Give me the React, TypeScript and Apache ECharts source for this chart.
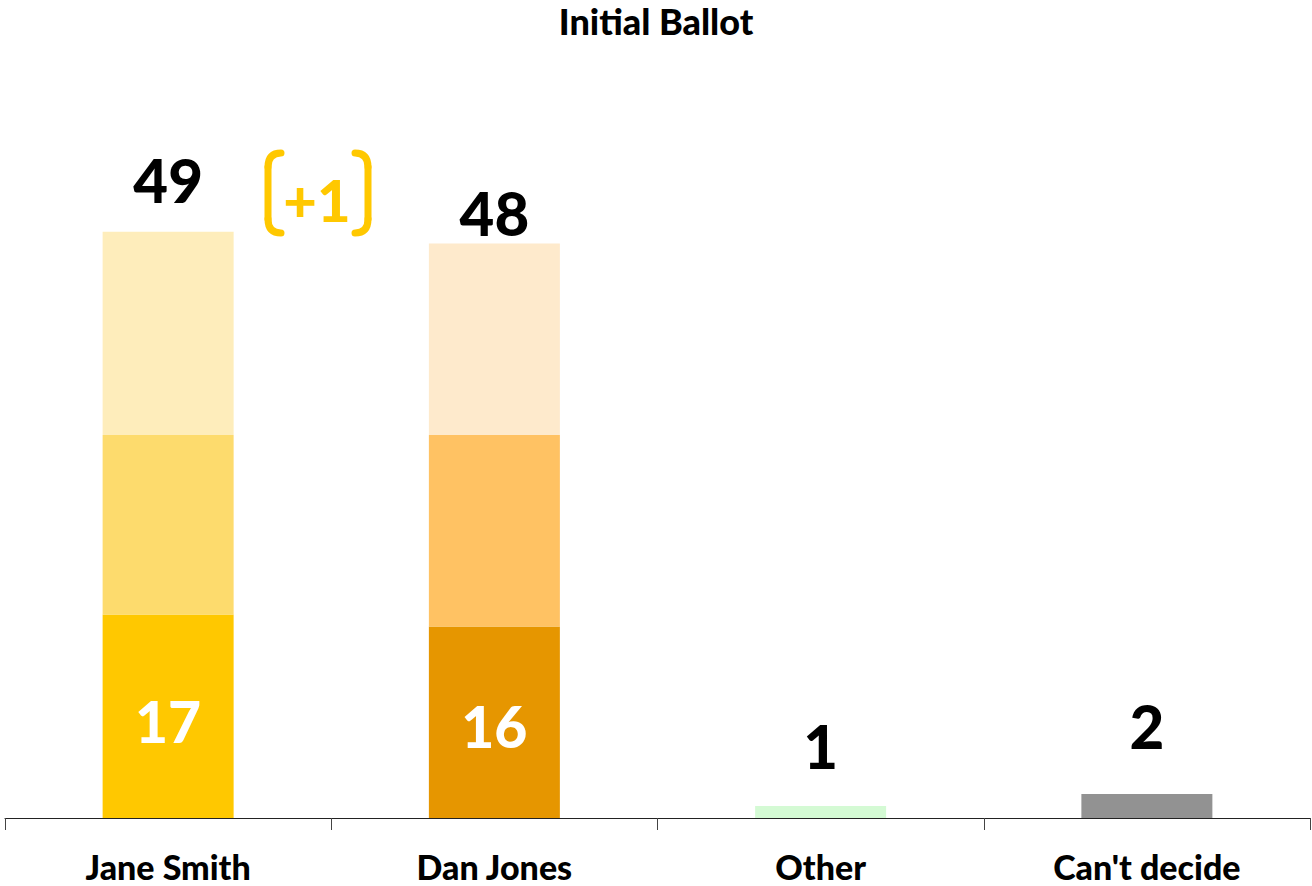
import React, { useEffect, useRef } from "react";
import * as echarts from "echarts";

const categories = ["Jane Smith", "Dan Jones", "Other", "Can't decide"];
const baseValues = [17, 16, 1, 2];
const midValues = [15, 16, null, null];
const topValues = [17, 16, null, null];
const totals = [49, 48, 1, 2];
const baseColors = ["#FFC800", "#E69600", "#D4FAD4", "#929292"];
const midColors = ["#FDDB6D", "#FFC263"];
const topColors = ["#FEEDBB", "#FEEACC"];
const changeLabel = "+1";
const titleText = "Initial Ballot";

const FONT = "Lato, 'Open Sans', sans-serif";
const accent = "#FFC800";

export default function App() {
  const ref = useRef<HTMLDivElement>(null);
  useEffect(() => {
    if (!ref.current) return;
    const chart = echarts.init(ref.current, null, { renderer: "svg" });
    const topLabel = (dist: number) => ({
      show: true,
      position: "top",
      distance: dist,
      color: "#000",
      fontSize: 60,
      lineHeight: 60,
      fontWeight: 900,
      fontFamily: FONT,
    });
    const insideLabel = (dy: number) => ({
      show: true,
      position: "inside",
      offset: [0, dy],
      color: "#fff",
      fontSize: 57,
      lineHeight: 57,
      fontWeight: 900,
      fontFamily: FONT,
      formatter: "{c}",
    });
    const topDistances = [22, 0.5, 30, 38];

    const baseData = baseValues.map((v, i) => ({
      value: v,
      itemStyle: { color: baseColors[i] },
      label:
        i < 2
          ? insideLabel(i === 0 ? 5 : 4)
          : { ...topLabel(topDistances[i]), formatter: String(totals[i]) },
    }));
    const midData = midValues.map((v, i) => ({
      value: v,
      itemStyle: { color: midColors[i] || "#fff" },
    }));
    const topData = topValues.map((v, i) => ({
      value: v,
      itemStyle: { color: topColors[i] || "#fff" },
      label: { ...topLabel(topDistances[i]), formatter: String(totals[i]) },
    }));

    const bracket = (cx: number, dir: number) => {
      const end = cx + dir * 13;
      const st = { stroke: accent, lineWidth: 7, fill: "none", lineCap: "round" };
      return [
        {
          type: "bezierCurve",
          shape: { x1: end, y1: 153, x2: cx, y2: 167, cpx1: cx, cpy1: 153 },
          style: st,
        },
        { type: "line", shape: { x1: cx, y1: 167, x2: cx, y2: 219 }, style: st },
        {
          type: "bezierCurve",
          shape: { x1: cx, y1: 219, x2: end, y2: 233, cpx1: cx, cpy1: 233 },
          style: st,
        },
      ];
    };

    chart.setOption({
      animation: false,
      title: {
        text: titleText,
        left: "center",
        top: 0,
        padding: 0,
        textStyle: { fontFamily: FONT, fontWeight: 900, fontSize: 36, lineHeight: 42, color: "#000" },
      },
      grid: { left: 5, right: 2, top: 100, bottom: 68, containLabel: false },
      xAxis: {
        type: "category",
        data: categories,
        axisLine: { show: true, lineStyle: { color: "#222", width: 1 } },
        axisTick: { show: true, length: 12, lineStyle: { color: "#444" } },
        axisLabel: {
          color: "#000",
          fontFamily: FONT,
          fontWeight: 900,
          fontSize: 34,
          lineHeight: 34,
          margin: 31,
        },
      },
      yAxis: { type: "value", min: 0, max: 60, show: false, splitLine: { show: false } },
      series: [
        { type: "bar", stack: "s", barWidth: 131, data: baseData },
        { type: "bar", stack: "s", barWidth: 131, data: midData },
        { type: "bar", stack: "s", barWidth: 131, data: topData },
      ],
      graphic: [
        ...bracket(268, 1),
        ...bracket(368, -1),
        {
          type: "text",
          x: 317,
          y: 199,
          style: {
            text: changeLabel,
            fill: accent,
            fontFamily: FONT,
            fontWeight: 900,
            fontSize: 58,
            align: "center",
            verticalAlign: "middle",
          },
        },
      ],
    });
    return () => chart.dispose();
  }, []);
  return (
    <div
      ref={ref}
      style={{ position: "absolute", left: 0, top: 0, width: 1312, height: 886 }}
    />
  );
}
